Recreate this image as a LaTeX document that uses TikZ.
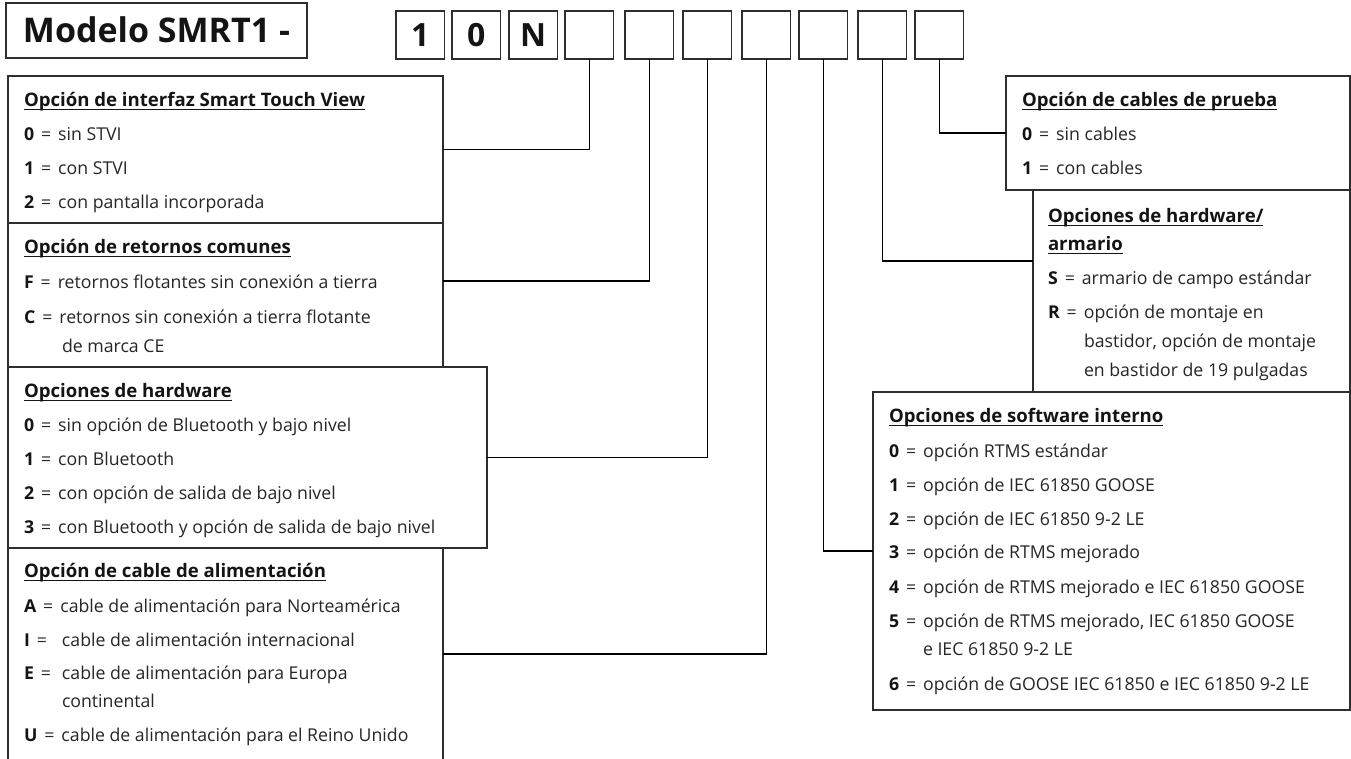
\documentclass[tikz,border=0pt]{standalone}
\usepackage{fontspec}
\setmainfont{Open Sans}
\usetikzlibrary{calc}
\definecolor{txtc}{HTML}{262626}
\definecolor{keyc}{HTML}{141414}
\definecolor{linec}{HTML}{2E2E2E}
\newcommand\hdr[1]{\setbox0=\hbox{\color{keyc}\fontsize{18.6}{18.6}\selectfont\bfseries #1}\rlap{\color{keyc}\rule[-3.8pt]{\wd0}{1.3pt}}\box0}
\newcommand\itm[2]{{\color{keyc}\bfseries #1}\hspace{7pt}=\hspace{7pt}#2}
\newcommand\itmw[2]{\makebox[38pt][l]{{\color{keyc}\bfseries #1}\hspace{7pt}=}#2}
\tikzset{
  box/.style={draw=linec, line width=1.4pt, anchor=north west, inner sep=0pt, outer sep=0pt, fill=white},
  digit/.style={draw=linec, line width=1.4pt, minimum width=48.5pt, minimum height=48pt, inner sep=0pt, outer sep=0pt, anchor=north west, font=\fontsize{32}{32}\selectfont\bfseries, text=keyc},
  txt/.style={anchor=base west, inner sep=0pt, outer sep=0pt, text=txtc, font=\fontsize{17.7}{17.7}\selectfont},
  conn/.style={draw=black, line width=1.1pt},
}
\begin{document}
\begin{tikzpicture}[x=1pt,y=-1pt]
\useasboundingbox (0,0) rectangle (1351,758);
\fill[white] (0,0) rectangle (1351,758);
% title
\node[box, minimum width=301pt, minimum height=55pt] (title) at (6,3) {};
\node[font=\fontsize{34}{34}\selectfont\bfseries, text=keyc, anchor=base, inner sep=0pt] (titletxt) at ([yshift=-12pt]title.center) {Modelo SMRT1 -};
% digit boxes
\node[digit] (d1) at (396,11) {1};
\node[digit] (d2) at (452,11) {0};
\node[digit] (d3) at (509,11) {N};
\node[digit] (b1) at (565,11) {};
\node[digit] (b2) at (625,11) {};
\node[digit] (b3) at (683,11) {};
\node[digit] (b4) at (742,11) {};
\node[digit] (b5) at (799,11) {};
\node[digit] (b6) at (858,11) {};
\node[digit] (b7) at (915,11) {};
% left boxes
\node[box, minimum width=435pt, minimum height=147pt] (interfaz) at (8,76) {};
\node[box, minimum width=435pt, minimum height=144pt] (retornos) at (8,223) {};
\node[box, minimum width=479pt, minimum height=181pt] (hardw) at (8,367) {};
\node[box, minimum width=435pt, minimum height=212pt] (cable) at (8,548) {};
% right boxes
\node[box, minimum width=477pt, minimum height=318pt] (software) at (873,392) {};
\node[box, minimum width=317pt, minimum height=202pt] (armario) at (1033,190) {};
\node[box, minimum width=344pt, minimum height=114pt] (cables) at (1006,76) {};
% connectors
\draw[conn] (b1.south) |- (interfaz.east);
\draw[conn] (b2.south) |- ([yshift=14pt]retornos.east);
\draw[conn] (b3.south) |- (hardw.east);
\draw[conn] (b4.south) |- (cable.east);
\draw[conn] (b5.south) |- (software.west);
\draw[conn] (b6.south) |- ([yshift=30pt]armario.west);
\draw[conn] (b7.south) |- (cables.west);
% interfaz
\node[txt] (ih) at (24,106) {\hdr{Opción de interfaz Smart Touch View}};
\node[txt] (i0) at (24,140) {\itm{0}{sin STVI}};
\node[txt] (i1) at (24,174) {\itm{1}{con STVI}};
\node[txt] (i2) at (24,208) {\itm{2}{con pantalla incorporada}};
% retornos
\node[txt] (rh) at (24,253) {\hdr{Opción de retornos comunes}};
\node[txt] (r0) at (24,288) {\itm{F}{retornos flotantes sin conexión a tierra}};
\node[txt] (r1) at (24,323) {\itm{C}{retornos sin conexión a tierra flotante}};
\node[txt] (r1b) at (62,352) {de marca CE};
% hardware
\node[txt] (hh) at (24,397) {\hdr{Opciones de hardware}};
\node[txt] (h0) at (24,431) {\itm{0}{sin opción de Bluetooth y bajo nivel}};
\node[txt] (h1) at (24,465) {\itm{1}{con Bluetooth}};
\node[txt] (h2) at (24,499) {\itm{2}{con opción de salida de bajo nivel}};
\node[txt] (h3) at (24,533) {\itm{3}{con Bluetooth y opción de salida de bajo nivel}};
% cable
\node[txt] (ch) at (24,577) {\hdr{Opción de cable de alimentación}};
\node[txt] (c0) at (24,612) {\itm{A}{cable de alimentación para Norteamérica}};
\node[txt] (c1) at (24,646) {\itmw{I}{cable de alimentación internacional}};
\node[txt] (c2) at (24,679) {\itmw{E}{cable de alimentación para Europa}};
\node[txt] (c2b) at (62,707) {continental};
\node[txt] (c3) at (24,741) {\itm{U}{cable de alimentación para el Reino Unido}};
% cables de prueba
\node[txt] (ph) at (1022,106) {\hdr{Opción de cables de prueba}};
\node[txt] (p0) at (1022,140) {\itm{0}{sin cables}};
\node[txt] (p1) at (1022,174) {\itm{1}{con cables}};
% hardware/armario
\node[txt] (ah) at (1048,222) {\hdr{Opciones de hardware/}};
\node[txt] (ah2) at (1048,250) {\hdr{armario}};
\node[txt] (a0) at (1048,284) {\itm{S}{armario de campo estándar}};
\node[txt] (a1) at (1048,318) {\itm{R}{opción de montaje en}};
\node[txt] (a1b) at (1084,347) {bastidor, opción de montaje};
\node[txt] (a1c) at (1084,376) {en bastidor de 19 pulgadas};
% software
\node[txt] (sh) at (889,422) {\hdr{Opciones de software interno}};
\node[txt] (s0) at (889,457) {\itm{0}{opción RTMS estándar}};
\node[txt] (s1) at (889,491) {\itm{1}{opción de IEC 61850 GOOSE}};
\node[txt] (s2) at (889,525) {\itm{2}{opción de IEC 61850 9-2 LE}};
\node[txt] (s3) at (889,558) {\itm{3}{opción de RTMS mejorado}};
\node[txt] (s4) at (889,593) {\itm{4}{opción de RTMS mejorado e IEC 61850 GOOSE}};
\node[txt] (s5) at (889,627) {\itm{5}{opción de RTMS mejorado, IEC 61850 GOOSE}};
\node[txt] (s5b) at (923,655) {e IEC 61850 9-2 LE};
\node[txt] (s6) at (889,690) {\itm{6}{opción de GOOSE IEC 61850 e IEC 61850 9-2 LE}};
\end{tikzpicture}
\end{document}
